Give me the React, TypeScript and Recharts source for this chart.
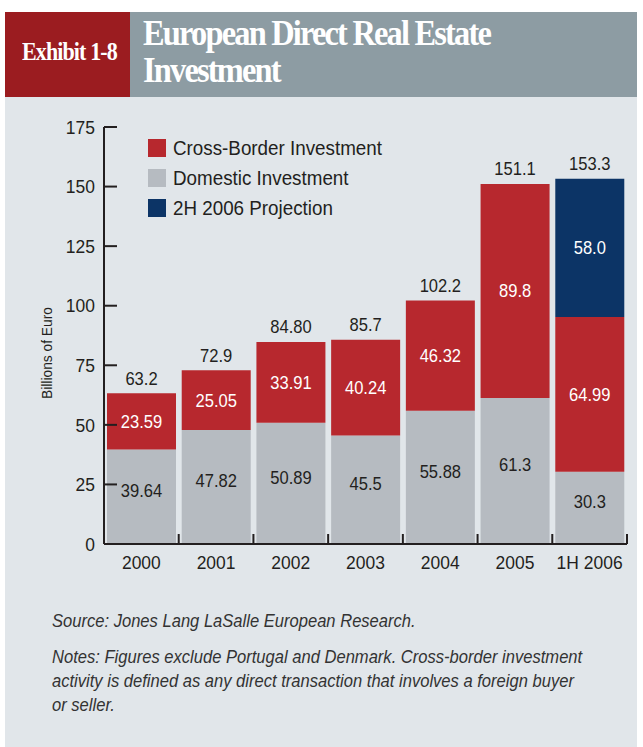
import React from 'react';
import { BarChart, Bar, XAxis, YAxis, LabelList } from 'recharts';

const years = ['2000', '2001', '2002', '2003', '2004', '2005', '1H 2006'];
const domestic = [39.64, 47.82, 50.89, 45.5, 55.88, 61.3, 30.3];
const crossBorder = [23.59, 25.05, 33.91, 40.24, 46.32, 89.8, 64.99];
const projection = [null, null, null, null, null, null, 58.0];
const totalLabels = ['63.2', '72.9', '84.80', '85.7', '102.2', '151.1', '153.3'];
const yTicks = [0, 25, 50, 75, 100, 125, 150, 175];

const RED = '#b7282e';
const GREY = '#b6bbc1';
const NAVY = '#0c3466';
const INK = '#231f20';
const FONT = "'Liberation Sans', Arial, sans-serif";
const SERIF = "'Liberation Serif', 'Times New Roman', serif";
const SQUEEZE = 0.92;

const CHART_W = 643;
const CHART_H = 500;
const Y_AXIS_W = 104;
const MARGIN = { top: 27, right: 16, bottom: 16, left: 0 };
const PLOT_W = CHART_W - MARGIN.left - MARGIN.right - Y_AXIS_W;
const BAND = PLOT_W / years.length;

const rows = years.map((year, i) => ({
  year,
  domestic: domestic[i],
  cross: crossBorder[i],
  projection: projection[i],
}));

// narrow sans text, squeezed horizontally around its anchor point
const NarrowText = ({ x, y, size, fill, anchor = 'middle', children }: any) => (
  <text
    transform={`translate(${x} ${y}) scale(${SQUEEZE} 1)`}
    dy="0.35em"
    textAnchor={anchor}
    fontSize={size}
    fill={fill}
    fontFamily={FONT}
  >
    {children}
  </text>
);

const YTick = (props: any) => {
  const { x, y, payload } = props;
  return (
    <g>
      <line x1={x + 8} x2={x + 21} y1={y} y2={y} stroke={INK} strokeWidth={2} />
      <NarrowText x={x - 1} y={y} size={19} fill={INK} anchor="end">
        {payload.value}
      </NarrowText>
    </g>
  );
};

const XTick = (props: any) => {
  const { x, y, payload } = props;
  return (
    <g>
      <line x1={x + BAND / 2} x2={x + BAND / 2} y1={y} y2={y - 10} stroke={INK} strokeWidth={2} />
      <NarrowText x={x} y={y + 18} size={19} fill={INK}>
        {payload.value}
      </NarrowText>
    </g>
  );
};

const segLabel = (color: string, lift = 0, fmt?: (v: number) => string) => (p: any) => {
  const { x, y, width, height, value } = p;
  if (value == null) return null;
  return (
    <NarrowText x={x + width / 2} y={y + height / 2 - lift} size={18} fill={color}>
      {fmt ? fmt(value) : value}
    </NarrowText>
  );
};

// total sits above whichever segment tops the stack
const totalLabel = (onlyWithoutProjection: boolean) => (p: any) => {
  const { x, y, width } = p;
  const idx = Math.floor((x - Y_AXIS_W) / BAND);
  if (onlyWithoutProjection && projection[idx] != null) return null;
  return (
    <NarrowText x={x + width / 2} y={y - 15} size={18} fill={INK}>
      {totalLabels[idx]}
    </NarrowText>
  );
};

const legendItems = [
  { label: 'Cross-Border Investment', color: RED },
  { label: 'Domestic Investment', color: GREY },
  { label: '2H 2006 Projection', color: NAVY },
];

const noteLines = [
  'Notes: Figures exclude Portugal and Denmark. Cross-border investment',
  'activity is defined as any direct transaction that involves a foreign buyer',
  'or seller.',
];

export default function App() {
  return (
    <div style={{ position: 'absolute', left: 0, top: 0, width: 643, height: 747, background: '#fff', overflow: 'hidden' }}>
      {/* header */}
      <div style={{ position: 'absolute', left: 5, top: 12, width: 125, height: 85, background: '#9b1c20' }} />
      <div style={{ position: 'absolute', left: 130, top: 12, width: 507, height: 85, background: '#8d9ca3' }} />
      <div
        style={{
          position: 'absolute',
          left: 22,
          top: 38,
          color: '#fff',
          fontFamily: SERIF,
          fontWeight: 700,
          fontSize: 25,
          lineHeight: 'normal',
          letterSpacing: -1,
          transform: 'scaleX(0.88)',
          transformOrigin: 'left top',
          whiteSpace: 'nowrap',
        }}
      >
        Exhibit 1-8
      </div>
      <div
        style={{
          position: 'absolute',
          left: 143,
          top: 15,
          color: '#fff',
          fontFamily: SERIF,
          fontWeight: 700,
          fontSize: 36,
          lineHeight: '37px',
          letterSpacing: -2,
          transform: 'scaleX(0.9)',
          transformOrigin: 'left top',
          whiteSpace: 'nowrap',
        }}
      >
        European Direct Real Estate
        <br />
        Investment
      </div>

      {/* panel */}
      <div style={{ position: 'absolute', left: 5, top: 97, width: 632, height: 650, background: '#e1e6ea' }} />

      <div style={{ position: 'absolute', left: 0, top: 100 }}>
        <BarChart width={CHART_W} height={CHART_H} data={rows} margin={MARGIN} barCategoryGap={3}>
          <XAxis
            dataKey="year"
            height={40}
            axisLine={{ stroke: INK, strokeWidth: 2 }}
            tickLine={false}
            tickSize={0}
            tickMargin={0}
            tick={<XTick />}
            interval={0}
          />
          <YAxis
            width={Y_AXIS_W}
            domain={[0, 175]}
            ticks={yTicks}
            axisLine={{ stroke: INK, strokeWidth: 2 }}
            tickLine={false}
            tick={<YTick />}
            interval={0}
          />
          <Bar dataKey="domestic" stackId="a" fill={GREY} isAnimationActive={false}>
            <LabelList dataKey="domestic" content={segLabel(INK, 6)} />
          </Bar>
          <Bar dataKey="cross" stackId="a" fill={RED} isAnimationActive={false}>
            <LabelList dataKey="cross" content={segLabel('#fff')} />
            <LabelList dataKey="cross" content={totalLabel(true)} />
          </Bar>
          <Bar dataKey="projection" stackId="a" fill={NAVY} isAnimationActive={false}>
            <LabelList dataKey="projection" content={segLabel('#fff', 0, (v) => v.toFixed(1))} />
            <LabelList dataKey="projection" content={totalLabel(false)} />
          </Bar>
        </BarChart>
      </div>

      <svg style={{ position: 'absolute', left: 0, top: 0 }} width={100} height={600}>
        <text
          transform="translate(47 353) rotate(-90) scale(0.92 1)"
          textAnchor="middle"
          dy="0.35em"
          fontSize={15}
          fill={INK}
          fontFamily={FONT}
        >
          Billions of Euro
        </text>
      </svg>

      {/* legend */}
      <div style={{ position: 'absolute', left: 148, top: 133 }}>
        {legendItems.map((item) => (
          <div key={item.label} style={{ display: 'flex', alignItems: 'center', height: 30 }}>
            <div style={{ width: 18, height: 18, background: item.color, marginRight: 7 }} />
            <span
              style={{
                fontFamily: FONT,
                fontSize: 20,
                color: INK,
                whiteSpace: 'nowrap',
                display: 'inline-block',
                transform: 'scaleX(0.94)',
                transformOrigin: 'left center',
              }}
            >
              {item.label}
            </span>
          </div>
        ))}
      </div>

      {/* footnotes */}
      <div
        style={{
          position: 'absolute',
          left: 52,
          top: 609,
          fontFamily: FONT,
          fontStyle: 'italic',
          fontSize: 18,
          color: '#333',
          lineHeight: '24px',
          whiteSpace: 'nowrap',
          transform: 'scaleX(0.92)',
          transformOrigin: 'left top',
        }}
      >
        <div>Source: Jones Lang LaSalle European Research.</div>
        <div style={{ marginTop: 12 }}>
          {noteLines.map((line) => (
            <div key={line}>{line}</div>
          ))}
        </div>
      </div>
    </div>
  );
}
